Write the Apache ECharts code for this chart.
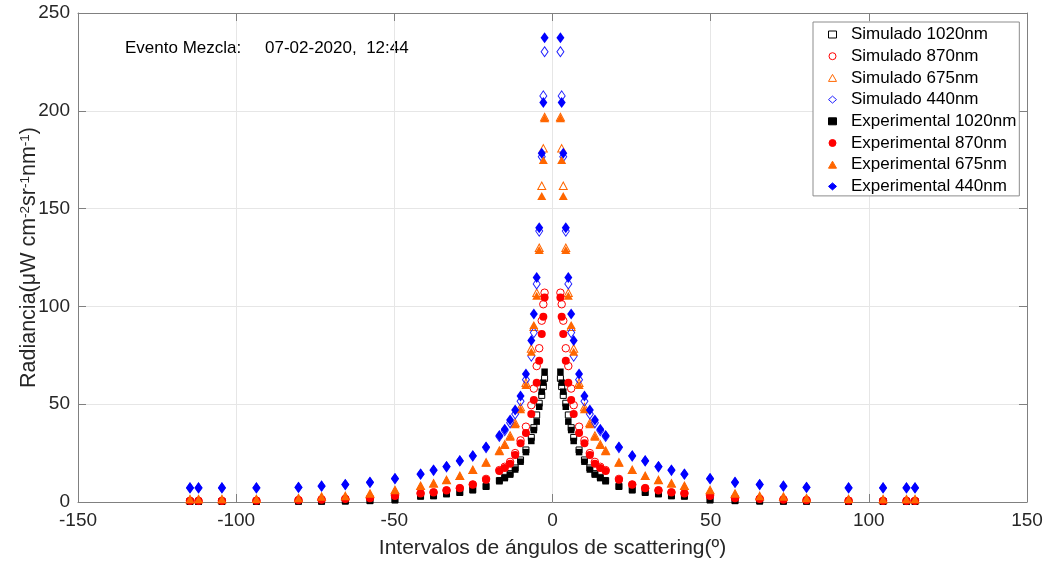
<!DOCTYPE html>
<html><head><meta charset="utf-8">
<script src="https://cdn.jsdelivr.net/npm/echarts@6/dist/echarts.min.js"></script>
<style>html,body{margin:0;padding:0;background:#fff}#c{width:1047px;height:565px}</style>
</head><body><div id="c"></div>
<script>
// Scattering angle intervals (degrees)
const angles = [-114.6,-111.9,-104.5,-93.6,-80.3,-73.0,-65.5,-57.7,-49.8,-41.7,-37.6,-33.5,-29.3,-25.2,-21.0,-16.8,-15.1,-13.4,-11.8,-10.1,-8.4,-6.7,-5.9,-5.0,-4.2,-3.4,-2.9,-2.5,
                2.5,2.9,3.4,4.2,5.0,5.9,6.7,8.4,10.1,11.8,13.4,15.1,16.8,21.0,25.2,29.3,33.5,37.6,41.7,49.8,57.7,65.5,73.0,80.3,93.6,104.5,111.9,114.6];

const sim1020 = [0.3,0.3,0.3,0.3,0.4,0.4,0.5,0.7,1.1,3.0,3.2,4.2,4.9,6.2,8.0,11.0,12.6,14.5,17.4,21.5,26.6,33.0,38.0,44.5,50.5,54.5,59.0,63.2,
                 63.2,59.0,54.5,50.5,44.5,38.0,33.0,26.6,21.5,17.4,14.5,12.6,11.0,8.0,6.2,4.9,4.2,3.2,3.0,1.1,0.7,0.5,0.4,0.4,0.3,0.3,0.3,0.3];
const sim870  = [0.6,0.6,0.6,0.7,1.0,1.3,1.6,2.0,3.2,4.5,5.0,6.0,7.1,9.0,11.8,16.3,18.0,20.5,25.0,31.5,38.5,49.5,58.0,69.5,78.6,92.7,101.1,107.0,
                 107.0,101.1,92.7,78.6,69.5,58.0,49.5,38.5,31.5,25.0,20.5,18.0,16.3,11.8,9.0,7.1,6.0,5.0,4.5,3.2,2.0,1.6,1.3,1.0,0.7,0.6,0.6,0.6];
const sim675  = [1.5,1.5,1.5,1.6,2.0,2.8,3.1,4.3,6.1,8.3,9.6,11.3,13.4,16.5,20.3,26.3,29.5,34.0,40.5,48.5,61.0,78.5,89.6,107.0,130.0,161.7,180.8,196.8,
                 196.8,180.8,161.7,130.0,107.0,89.6,78.5,61.0,48.5,40.5,34.0,29.5,26.3,20.3,16.5,13.4,11.3,9.6,8.3,6.1,4.3,3.1,2.8,2.0,1.6,1.5,1.5,1.5];
const sim440  = [7.2,7.2,7.2,7.2,7.4,8.1,8.9,10.0,11.9,14.2,16.2,18.0,21.0,23.5,27.8,33.5,36.5,40.5,45.0,51.5,62.5,74.6,86.6,111.5,138.5,176.5,207.6,230.2,
                 230.2,207.6,176.5,138.5,111.5,86.6,74.6,62.5,51.5,45.0,40.5,36.5,33.5,27.8,23.5,21.0,18.0,16.2,14.2,11.9,10.0,8.9,8.1,7.4,7.2,7.2,7.2,7.2];
const exp1020 = [0.2,0.2,0.2,0.2,0.3,0.3,0.4,0.6,1.0,2.9,3.1,4.1,4.8,6.1,7.8,10.6,12.2,14.0,16.6,20.6,25.5,31.2,36.8,41.1,48.7,56.4,61.0,66.6,
                 66.6,61.0,56.4,48.7,41.1,36.8,31.2,25.5,20.6,16.6,14.0,12.2,10.6,7.8,6.1,4.8,4.1,3.1,2.9,1.0,0.6,0.4,0.3,0.3,0.2,0.2,0.2,0.2];
const exp870  = [0.5,0.5,0.5,0.6,0.9,1.2,1.5,1.9,3.1,4.4,4.9,5.9,7.0,8.8,11.4,15.8,17.4,19.5,24.0,30.0,35.3,45.0,52.1,61.0,72.2,85.9,94.7,104.5,
                 104.5,94.7,85.9,72.2,61.0,52.1,45.0,35.3,30.0,24.0,19.5,17.4,15.8,11.4,8.8,7.0,5.9,4.9,4.4,3.1,1.9,1.5,1.2,0.9,0.6,0.5,0.5,0.5];
const exp675  = [1.4,1.4,1.4,1.5,1.9,2.7,3.0,4.2,6.0,8.2,9.5,11.2,13.3,16.4,20.1,26.0,29.1,33.4,39.7,47.4,59.8,76.8,90.5,105.5,128.8,156.4,174.8,196.2,
                 196.2,174.8,156.4,128.8,105.5,90.5,76.8,59.8,47.4,39.7,33.4,29.1,26.0,20.1,16.4,13.3,11.2,9.5,8.2,6.0,4.2,3.0,2.7,1.9,1.5,1.4,1.4,1.4];
const exp440  = [7.3,7.3,7.3,7.3,7.5,8.2,9.0,10.1,12.0,14.3,16.4,18.2,21.1,23.6,28.1,34.0,37.2,41.9,47.0,54.2,65.4,82.6,96.1,114.8,140.2,178.3,204.3,237.4,
                 237.4,204.3,178.3,140.2,114.8,96.1,82.6,65.4,54.2,47.0,41.9,37.2,34.0,28.1,23.6,21.1,18.2,16.4,14.3,12.0,10.1,9.0,8.2,7.5,7.3,7.3,7.3,7.3];

const seriesNames = ['Simulado 1020nm','Simulado 870nm','Simulado 675nm','Simulado 440nm',
                     'Experimental 1020nm','Experimental 870nm','Experimental 675nm','Experimental 440nm'];
const xTicksMin = -150, xTicksMax = 150, xStep = 50;
const yTicksMin = 0, yTicksMax = 250, yStep = 50;

const FONT = '"Liberation Sans", Arial, Helvetica, sans-serif';
const AX = '#808080', TXT = '#262626';

function pts(vals){ return angles.map((a,i)=>[a, vals[i]]); }

const defs = [
  {v: sim1020, symbol:'rect',     size:6,       color:'#000000', hollow:true},
  {v: sim870,  symbol:'circle',   size:7.5,     color:'#ff0000', hollow:true},
  {v: sim675,  symbol:'triangle', size:[8,7.5], color:'#ff6600', hollow:true},
  {v: sim440,  symbol:'diamond',  size:[7,10],  color:'#2020ff', hollow:true},
  {v: exp1020, symbol:'rect',     size:6.5,     color:'#000000', hollow:false},
  {v: exp870,  symbol:'circle',   size:8,       color:'#ff0000', hollow:false},
  {v: exp675,  symbol:'triangle', size:[9,8],   color:'#ff6600', hollow:false},
  {v: exp440,  symbol:'diamond',  size:[8,11],  color:'#0000ff', hollow:false}
];

const series = defs.map((d,i)=>({
  name: seriesNames[i],
  type: 'scatter',
  data: pts(d.v),
  symbol: d.symbol,
  symbolSize: d.size,
  itemStyle: d.hollow
    ? {color:'rgba(255,255,255,0)', borderColor:d.color, borderWidth:1, opacity:1}
    : {color:d.color, borderColor:d.color, borderWidth:0, opacity:1},
  emphasis: {disabled:true},
  z: 2 + i
}));

const chart = echarts.init(document.getElementById('c'), null, {renderer:'canvas'});
chart.setOption({
  animation: false,
  backgroundColor: '#ffffff',
  grid: {left:78, right:20, top:13, bottom:63},
  xAxis: [{
    type:'value', min:xTicksMin, max:xTicksMax, interval:xStep, position:'bottom',
    axisLine:{show:true, onZero:false, lineStyle:{color:AX, width:1}},
    axisTick:{show:true, inside:true, length:8, lineStyle:{color:AX}},
    axisLabel:{color:TXT, fontSize:19, fontFamily:FONT, margin:9},
    splitLine:{show:true, lineStyle:{color:'#e6e6e6', width:1}},
    name:'Intervalos de ángulos de scattering(º)', nameLocation:'middle', nameGap:36,
    nameMoveOverlap:false,
    nameTextStyle:{color:TXT, fontSize:21, fontFamily:FONT}
  },{
    type:'value', min:xTicksMin, max:xTicksMax, interval:xStep, position:'top',
    axisLine:{show:true, onZero:false, lineStyle:{color:AX, width:1}},
    axisTick:{show:true, inside:true, length:8, lineStyle:{color:AX}},
    axisLabel:{show:false}, splitLine:{show:false}
  }],
  yAxis: [{
    type:'value', min:yTicksMin, max:yTicksMax, interval:yStep, position:'left',
    axisLine:{show:true, onZero:false, lineStyle:{color:AX, width:1}},
    axisTick:{show:true, inside:true, length:8, lineStyle:{color:AX}},
    axisLabel:{color:TXT, fontSize:19, fontFamily:FONT, margin:8},
    splitLine:{show:true, lineStyle:{color:'#e6e6e6', width:1}},
    name:'Radiancia(μW cm{sup|-2}sr{sup|-1}nm{sup|-1})', nameLocation:'middle', nameGap:37,
    nameMoveOverlap:false,
    nameTextStyle:{color:TXT, fontSize:21.5, fontFamily:FONT,
      rich:{sup:{color:TXT, fontSize:13.5, fontFamily:FONT, verticalAlign:'bottom', padding:[0,0,9,0]}}}
  },{
    type:'value', min:yTicksMin, max:yTicksMax, interval:yStep, position:'right',
    axisLine:{show:true, onZero:false, lineStyle:{color:AX, width:1}},
    axisTick:{show:true, inside:true, length:8, lineStyle:{color:AX}},
    axisLabel:{show:false}, splitLine:{show:false}
  }],
  legend: {
    orient:'vertical', left:813, top:22, itemWidth:8, itemHeight:7, itemGap:4.7,
    padding:[4,3,1,15], backgroundColor:'#ffffff', borderColor:'#8c8c8c', borderWidth:1,
    selectedMode:false,
    itemStyle:{borderWidth:1},
    formatter: n => '  ' + n,
    textStyle:{fontSize:17, fontFamily:FONT, color:'#000'},
    data: seriesNames
  },
  graphic: [
    {type:'text', left:125, top:40, style:{text:'Evento Mezcla:', font:'17px ' + FONT, fill:'#000'}},
    {type:'text', left:265, top:40, style:{text:'07-02-2020,  12:44', font:'17px ' + FONT, fill:'#000'}}
  ],
  series: series
});
</script></body></html>
